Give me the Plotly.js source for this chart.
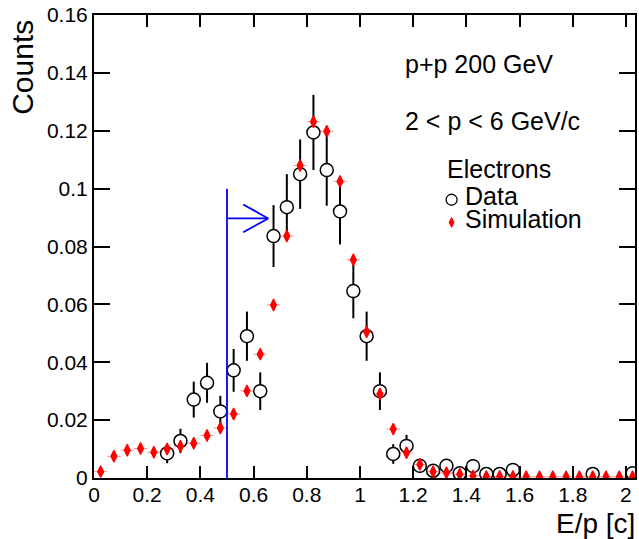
<!DOCTYPE html>
<html>
<head>
<meta charset="utf-8">
<script src="https://cdn.plot.ly/plotly-3.0.1.min.js"></script>
<style>
  html, body { margin: 0; padding: 0; background: #fff; }
  #chart { width: 639px; height: 539px; }
</style>
</head>
<body>
<div id="chart"></div>
<script>
// ---- data ----
const binCenters = [0.025,0.075,0.125,0.175,0.225,0.275,0.325,0.375,0.425,0.475,
                    0.525,0.575,0.625,0.675,0.725,0.775,0.825,0.875,0.925,0.975,
                    1.025,1.075,1.125,1.175,1.225,1.275,1.325,1.375,1.425,1.475,
                    1.525,1.575,1.625,1.675,1.725,1.775,1.825,1.875,1.925,1.975,2.025];
const binHalfWidth = 0.025;

const dataCounts = [null,null,null,null,null,0.0085,0.0128,0.0271,0.0329,0.0230,
                    0.0372,0.0490,0.0300,0.0836,0.0936,0.1050,0.1194,0.1064,0.0921,0.0646,
                    0.0490,0.0300,0.0083,0.0111,0.0042,0.0025,0.0042,0.0016,0.0041,0.0014,
                    0.0014,0.0028,null,null,null,null,null,0.0014,null,null,0.0016];
const dataErrors = [null,null,null,null,null,0.0034,0.0042,0.0062,0.0069,0.0054,
                    0.0074,0.0085,0.0065,0.0107,0.0114,0.0120,0.0130,0.0123,0.0114,0.0094,
                    0.0085,0.0065,0.0034,0.0038,0.0024,0.0018,0.0024,0.0015,0.0024,0.0014,
                    0.0014,0.0020,null,null,null,null,null,0.0014,null,null,0.0015];
const simCounts  = [0.0022,0.0075,0.0096,0.0102,0.0089,0.0100,0.0110,0.0120,0.0147,0.0173,
                    0.0221,0.0301,0.0428,0.0598,0.0836,0.1080,0.1231,0.1198,0.1025,0.0754,
                    0.0505,0.0290,0.0169,0.0087,0.0047,0.0022,0.0018,0.0013,0.0007,0.0005,
                    0.0005,0.0005,0.0004,0.0004,0.0004,0.0004,0.0004,0.0004,0.0004,0.0004,0.0004];

const xTickValues = [0,0.2,0.4,0.6,0.8,1,1.2,1.4,1.6,1.8,2];
const yTickValues = [0,0.02,0.04,0.06,0.08,0.1,0.12,0.14,0.16];

// E/p cut marker
const cutValue = 0.5;
const cutTop = 0.1;
const arrowY = 0.0897;
const arrowTipX = 0.655;
const arrowWingX = 0.561;
const arrowWingHalf = 0.0048;

// legend key positions (paper fraction of plot area)
const legendKeyX = [0.661, 0.661];
const legendKeyY = [0.6010, 0.5520];

const FONT = 'Liberation Sans, Arial, Helvetica, sans-serif';

const traceData = {
  x: binCenters, y: dataCounts, type: 'scatter', mode: 'markers', name: 'Data',
  error_y: { type: 'data', array: dataErrors, visible: true, color: '#000', thickness: 2, width: 0 },
  marker: { symbol: 'circle', size: 13, color: '#fff', line: { color: '#000', width: 1.5 } },
  showlegend: false, cliponaxis: true
};
const traceSim = {
  x: binCenters, y: simCounts, type: 'scatter', mode: 'markers', name: 'Simulation',
  error_x: { type: 'constant', value: binHalfWidth, visible: true, color: 'rgba(255,0,0,0.45)', thickness: 1, width: 0 },
  marker: { symbol: 'diamond-tall', size: 8.5, color: '#ff0000', line: { color: '#ff0000', width: 1.2 } },
  showlegend: false, cliponaxis: true
};
const traceKeyData = {
  x: [legendKeyX[0]], y: [legendKeyY[0]], xaxis: 'x2', yaxis: 'y2', type: 'scatter', mode: 'markers',
  marker: { symbol: 'circle', size: 11, color: '#fff', line: { color: '#000', width: 1.3 } },
  showlegend: false, hoverinfo: 'skip'
};
const traceKeySim = {
  x: [legendKeyX[1]], y: [legendKeyY[1]], xaxis: 'x2', yaxis: 'y2', type: 'scatter', mode: 'markers',
  marker: { symbol: 'diamond-tall', size: 7, color: '#ff0000', line: { color: '#ff0000', width: 1 } },
  showlegend: false, hoverinfo: 'skip'
};

const blue = '#0000ff';
const shapes = [
  { type: 'line', xref: 'x', yref: 'y', x0: cutValue, x1: cutValue, y0: 0, y1: cutTop, line: { color: blue, width: 1.8 } },
  { type: 'line', xref: 'x', yref: 'y', x0: cutValue, x1: arrowTipX, y0: arrowY, y1: arrowY, line: { color: blue, width: 1.8 } },
  { type: 'line', xref: 'x', yref: 'y', x0: arrowWingX, x1: arrowTipX, y0: arrowY + arrowWingHalf, y1: arrowY, line: { color: blue, width: 1.8 } },
  { type: 'line', xref: 'x', yref: 'y', x0: arrowWingX, x1: arrowTipX, y0: arrowY - arrowWingHalf, y1: arrowY, line: { color: blue, width: 1.8 } }
];

const txt = (text, x, y, size, extra) => Object.assign({
  text: text, xref: 'paper', yref: 'paper', x: x, y: y, showarrow: false,
  xanchor: 'left', yanchor: 'middle', font: { family: FONT, size: size, color: '#000' }
}, extra || {});

const annotations = [
  txt('p+p 200 GeV', 0.5710, 0.894, 25),
  txt('2 &lt; p &lt; 6 GeV/c', 0.5710, 0.772, 25),
  txt('Electrons', 0.6485, 0.6665, 25),
  txt('Data', 0.6825, 0.609, 25),
  txt('Simulation', 0.6825, 0.5590, 25),
  txt('Counts', -0.1312, 0.886, 30, { xanchor: 'center', textangle: -90 }),
  txt('E/p [c]', 1.004, -0.0975, 28, { xanchor: 'right' })
];

const axisCommon = {
  showgrid: false, zeroline: false, showline: true, linecolor: '#000', linewidth: 2,
  mirror: 'ticks', ticks: 'inside', tickcolor: '#000', tickwidth: 2,
  tickfont: { family: FONT, size: 21, color: '#000' }, tickmode: 'array'
};

const layout = {
  width: 639, height: 539,
  margin: { l: 94, r: 4, t: 15, b: 61, pad: 0 },
  paper_bgcolor: '#fff', plot_bgcolor: '#fff',
  showlegend: false, hovermode: false,
  xaxis: Object.assign({}, axisCommon, { range: [0, 2.034], tickvals: xTickValues, ticklen: 12, ticklabelstandoff: -3 }),
  yaxis: Object.assign({}, axisCommon, { range: [0, 0.16], tickvals: yTickValues, ticklen: 16 }),
  xaxis2: { overlaying: 'x', range: [0, 1], visible: false, anchor: 'y2' },
  yaxis2: { overlaying: 'y', range: [0, 1], visible: false, anchor: 'x2' },
  shapes: shapes,
  annotations: annotations
};

Plotly.newPlot('chart', [traceData, traceSim, traceKeyData, traceKeySim], layout, { displayModeBar: false, staticPlot: true });
</script>
</body>
</html>
